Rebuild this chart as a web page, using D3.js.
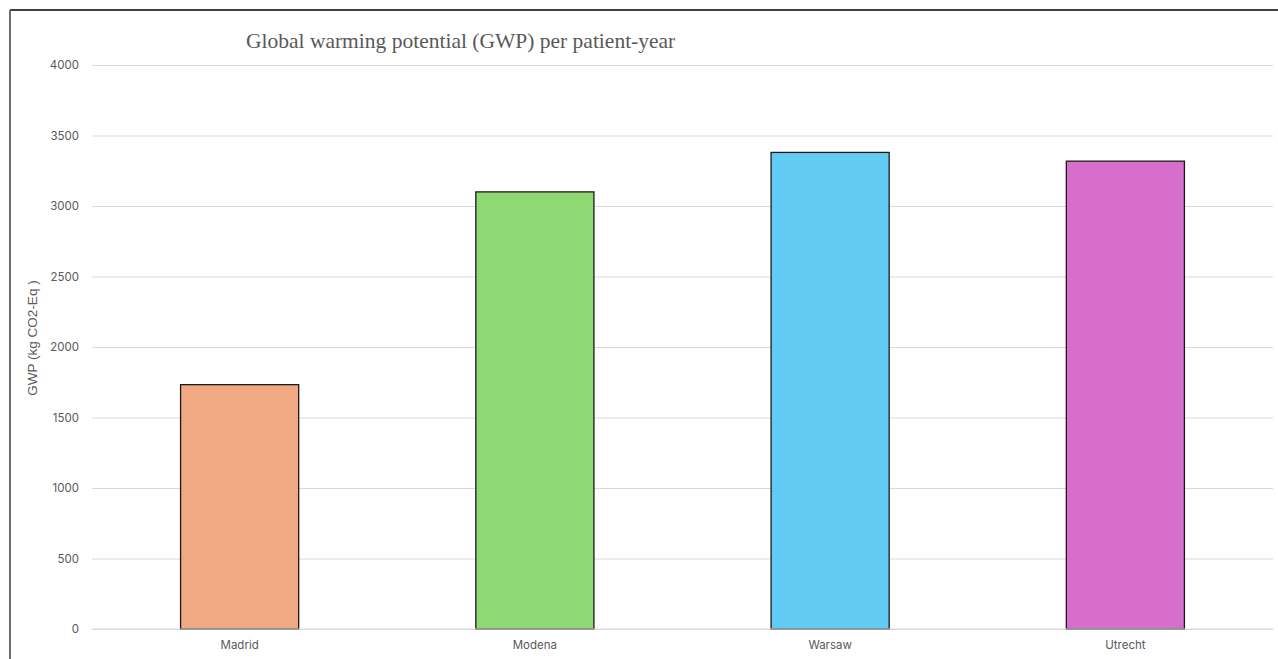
<!DOCTYPE html>
<html>
<head>
<meta charset="utf-8">
<script src="https://d3js.org/d3.v7.min.js"></script>
<style>
  body { margin: 0; background: #fff; }
  svg { display: block; }
</style>
</head>
<body>
<script>
var width = 1278;
var height = 659;

// data
var cities = ["Madrid", "Modena", "Warsaw", "Utrecht"];
var gwp = [1733, 3100, 3380, 3318];
var barColors = ["#F1A983", "#8ED973", "#61CBF3", "#D86ECC"];
var yTicks = [0, 500, 1000, 1500, 2000, 2500, 3000, 3500, 4000];

var plotLeft = 92, plotRight = 1273, plotTop = 65, plotBottom = 629;

var x = d3.scaleBand().domain(cities).range([plotLeft, plotRight]).paddingInner(0.6).paddingOuter(0.3);
var y = d3.scaleLinear().domain([0, 4000]).range([plotBottom, plotTop]);

var svg = d3.select("body").append("svg")
    .attr("width", width)
    .attr("height", height);

// frame
svg.append("line")
  .attr("x1", 10).attr("y1", 10).attr("x2", width).attr("y2", 10)
  .attr("stroke", "#000").attr("stroke-width", 1.5);
svg.append("line")
  .attr("x1", 10).attr("y1", 10).attr("x2", 10).attr("y2", height)
  .attr("stroke", "#6e6e6e").attr("stroke-width", 2);

// gridlines + y labels
var yAxis = svg.append("g")
  .attr("class", "axis")
  .attr("transform", "translate(" + plotLeft + ",0)")
  .call(d3.axisLeft(y).tickValues(yTicks).tickFormat(d3.format("d"))
    .tickSize(-(plotRight - plotLeft)).tickPadding(13));
yAxis.select(".domain").remove();
yAxis.selectAll(".tick line").attr("stroke", "#d9d9d9").attr("stroke-width", 1);
yAxis.selectAll(".tick text")
  .attr("fill", "#595959")
  .style("font-family", "Inter, 'Noto Sans', sans-serif")
  .style("font-size", "11.5px");

// bars
svg.selectAll(".bar")
  .data(cities)
  .enter()
  .append("rect")
  .attr("class", "bar")
  .attr("x", function(d) { return x(d); })
  .attr("y", function(d, i) { return y(gwp[i]); })
  .attr("width", x.bandwidth())
  .attr("height", function(d, i) { return y(0) - y(gwp[i]); })
  .attr("fill", function(d, i) { return barColors[i]; })
  .attr("stroke", "#1a1a1a")
  .attr("stroke-width", 1.3);

// x labels
var xAxis = svg.append("g")
  .attr("transform", "translate(0," + plotBottom + ")")
  .call(d3.axisBottom(x).tickSize(0).tickPadding(12));
xAxis.select(".domain").remove();
xAxis.selectAll(".tick text")
  .attr("fill", "#595959")
  .style("font-family", "Inter, 'Noto Sans', sans-serif")
  .style("font-size", "11.5px");

// baseline
svg.append("line")
  .attr("x1", plotLeft).attr("x2", plotRight)
  .attr("y1", y(0)).attr("y2", y(0))
  .attr("stroke", "#d9d9d9").attr("stroke-width", 1);

// y title
svg.append("text")
  .attr("transform", "translate(37,338) rotate(-90)")
  .attr("text-anchor", "middle")
  .attr("fill", "#595959")
  .style("font-family", "'Liberation Sans', Arial, sans-serif")
  .style("font-size", "13.5px")
  .text("GWP (kg CO2-Eq )");

// title
svg.append("text")
  .attr("x", 246)
  .attr("y", 48)
  .attr("fill", "#595959")
  .style("font-family", "'Liberation Serif', 'Times New Roman', serif")
  .style("font-size", "21.5px")
  .text("Global warming potential (GWP) per patient-year");
</script>
</body>
</html>
